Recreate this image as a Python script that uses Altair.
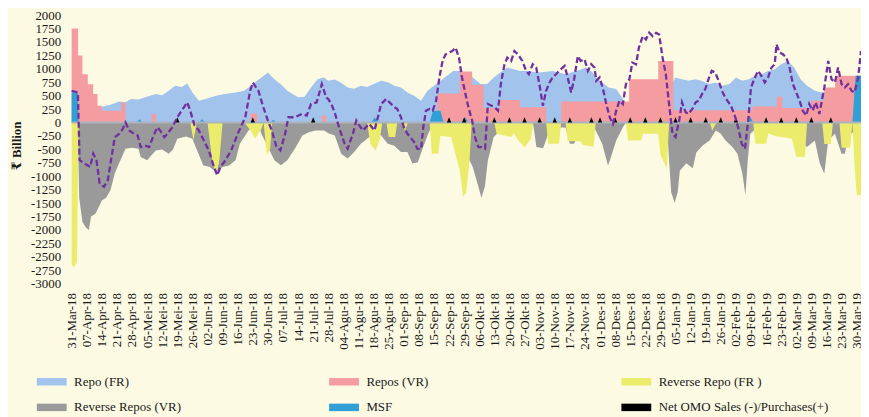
import json
import altair as alt
import pandas as pd

# ---------------- data (day index 0 = 31-Mar-18) ----------------
WEEK_LABELS = ["31-Mar-18","07-Apr-18","14-Apr-18","21-Apr-18","28-Apr-18","05-Mei-18","12-Mei-18",
    "19-Mei-18","26-Mei-18","02-Jun-18","09-Jun-18","16-Jun-18","23-Jun-18","30-Jun-18","07-Jul-18",
    "14-Jul-18","21-Jul-18","28-Jul-18","04-Agu-18","11-Agu-18","18-Agu-18","25-Agu-18","01-Sep-18",
    "08-Sep-18","15-Sep-18","22-Sep-18","29-Sep-18","06-Okt-18","13-Okt-18","20-Okt-18","27-Okt-18",
    "03-Nov-18","10-Nov-18","17-Nov-18","24-Nov-18","01-Des-18","08-Des-18","15-Des-18","22-Des-18",
    "29-Des-18","05-Jan-19","12-Jan-19","19-Jan-19","26-Jan-19","02-Feb-19","09-Feb-19","16-Feb-19",
    "23-Feb-19","02-Mar-19","09-Mar-19","16-Mar-19","23-Mar-19","30-Mar-19"]

SERIES = ["Repo (FR)", "Repos (VR)", "Reverse Repo (FR )", "Reverse Repos (VR)", "MSF",
          "Net OMO Sales (-)/Purchases(+)"]
COLORS = ["#a2c3eb", "#f59ca0", "#ecec6c", "#9a9a9a", "#2f9fd6", "#000000"]

REPO_FR_DAYS = [0,12,14,18,22,25,27.5,31,34,39,42,45,48,51,53.6,56,59,62,67,71,76,80,84,88,91,94,97,100,
    105,108,111,114,117,119,122,125,128,131,134,137,140,143.5,146.6,149.6,152.7,155.7,158.8,162,165,168,
    171,174,177,180,183,186,189.6,192.6,195.7,198.8,202,205,208,211,217,223,229,234,238.5,241.6,243,246,
    249,252.5,255.6,257,259,270,278,280,283,286,289,292,295.6,298.7,301.7,305,308,311,314,317,320,323,
    326,329,332,335,338,341,344.6,347.7,350.8,355,366]
REPO_FR_VALS = [0,250,296,330,390,376,438,430,470,530,510,592,685,660,728,560,407,440,500,530,560,592,715,
    840,932,808,715,592,470,480,654,808,840,777,800,740,654,630,685,660,716,777,750,685,654,561,500,407,
    592,685,777,870,962,962,932,839,716,716,839,931,1024,993,962,962,932,962,900,962,1024,932,839,746,
    654,623,438,222,300,500,700,839,808,777,808,777,716,746,685,716,839,777,808,870,900,962,993,1086,
    1148,1024,808,685,592,560,600,500,500]

REPO_VR_DAYS = [0,3,5,7.5,10,12,14,23,25,37,39,83,86,116,118,169.6,180,185.7,191,198.6,207.8,220,227,
    258.5,272,279,315.7,327,329.5,343,349,354,366]
REPO_VR_VALS = [1750,1250,900,715,530,315,220,375,0,160,0,170,0,130,0,540,950,700,270,420,284,0,390,
    808,1148,230,300,480,270,407,654,870,870]

REV_FR_DAYS = [0,1,2.5,3.2,55,56.5,58,63,65,67,68.5,70,80,83,85,88,89,90.5,92,93,137,138.5,141,143,144,
    146,147,150,151,153,154.5,156,166,167,170,171,176,178,180,181.5,183,184.5,185.5,196,197,204,205,207,
    210,213,214,220,221,226,227,229,230,236,237,242,243,257,258,264,265,272,273,276,277,296,297,299,316,
    317,322,323,326,334,336,340,341,348,349,352,353,356,357,361,362,363,364,366]
REV_FR_VALS = [-2650,-2700,-2600,0,0,-330,0,0,-650,-1000,-700,0,0,-150,-300,-120,0,-600,-500,0,0,-400,
    -520,-300,0,0,-270,-270,0,0,-150,0,0,-580,-580,-250,-270,-600,-900,-1380,-1300,-700,0,0,-210,-270,
    -200,-330,-460,-300,0,0,-395,-395,0,0,-350,-350,-420,-450,0,0,-333,-333,-210,-210,-600,-860,0,0,
    -150,0,0,-395,-395,-200,-250,-300,-642,-642,0,0,-400,-400,0,0,-470,-470,0,-800,-1350,-1350]

REV_VR_DAYS = [0,2.8,3.5,5,6.5,8,9,11,13,14,16,18,20,22,25,28,31,32,35,39,42,45,47,49,53,56,58,61,64,67,
    70,73,76,78,82,84,87,88,91,94,97,100,104,107,110,113,117,119,122,125,128,131,134,137,140,143.5,
    146.6,149.6,152.7,155.7,158,160.5,163,165,167,168,180,181,183,186,188.6,190,191.6,193,195.7,198.8,
    202,205,214,215.5,218.6,221,223,227,229,231,233,236,238.5,241.6,243,246,248.7,250,252.5,255.6,257,
    276,277,278,279.6,281,282,285,288,289.6,292.7,295.8,298.7,301,303.2,306.4,308.7,311,312.4,313.5,
    314.7,318,322,327.6,335,338,341,344.6,346.9,349,350.8,353.9,357,358.5,360,363,366]
REV_VR_VALS = [0,0,-1400,-1850,-1950,-2000,-1750,-1700,-1540,-1450,-1400,-1260,-950,-760,-487,-470,-490,
    -640,-700,-520,-500,-580,-500,-300,-260,-300,-500,-796,-826,-920,-830,-800,-700,-395,-148,-86,-86,
    -210,-456,-700,-796,-700,-456,-240,-180,-148,-148,-200,-240,-580,-672,-549,-400,-302,-210,-240,-395,
    -430,-549,-549,-765,-740,-456,-240,-55,0,0,-150,-580,-827,-1197,-1400,-1197,-703,-271,-148,-86,-30,
    -30,-456,-480,-210,-30,-90,-90,-395,-395,-148,-86,-60,-148,-395,-800,-650,-333,-86,0,0,-700,-1300,
    -1500,-1300,-900,-760,-850,-560,-425,-333,-148,-210,-333,-456,-580,-950,-1350,-700,-210,-86,-100,
    -148,-240,-364,-456,-333,-765,-950,-333,-210,-580,-580,-271,-148,-148]

MSF_DAYS = [0,2.8,3.3,30,31.5,33,59,60.5,62,92,93.5,95,139,140.5,142,166,167.5,171,172.5,181,182.5,184,
    313,314.5,316,362,363.5,366]
MSF_VALS = [560,560,0,0,60,0,0,60,0,0,50,0,0,100,0,0,222,222,0,0,100,0,0,120,0,0,870,870]

OMO_DAYS = [49,84,112,175,182,196,203,210,217,224,231,241,245,252,259,266,273,280,287,294,301,308,322,
    329,336,343,352]
OMO_VALS = [100] * len(OMO_DAYS)

NET_DAYS = [0,2.9,3.7,6,8.6,10,11.5,13,15,16.8,18,20,22,23.7,25,26.7,29,30.6,32,34,36,38,39.8,41,43,44.4,
    46.7,49,51,53.6,55,57,59,61.3,63.6,66,67.5,69,71.3,74,77,80.5,82.8,84,86.6,88.9,91,92.8,95,96.8,99,
    100.5,103.6,106.7,109,111,113.6,116,118,119,120.4,122,123,125,126.6,128,130.4,132,133.4,135,136.5,
    138,140.4,142,143.5,145.8,147.4,149.7,151,152.7,154,155.7,157,158.8,160.3,162,163,164.3,166,167.4,
    169,170.5,172,173.4,175,176.5,178,179.6,181,182.6,184,185.7,187,188.6,190,191.7,193,194.7,196.2,
    197.7,199,200.7,202,203.8,205.3,206.9,209,210.7,212,213.8,215.4,217,218.5,220,221.6,223,224.6,226,
    228.6,230,231.6,233,234.7,236,237.8,239.4,240.9,242.4,243.3,244.8,246.4,247.9,249.5,251,252.5,254,
    255.6,257,258.6,260,261.7,263,264.8,266.3,267.8,269.4,271,272.4,274,275.5,277,278.6,280,281.7,283,
    284.7,286,287.8,289.3,290.8,292.3,293.8,295.3,296.8,298.4,300,301.5,303,304.6,306,307.7,309,310.7,
    312.2,313.7,315,316.8,318.3,319.8,321.4,322.9,324.5,326,326.8,328.3,329.8,331.4,332.9,334.4,336,
    337.5,339,340.6,342,343.6,345,346.7,349,350.8,352.3,353.9,355.4,357,358.5,360,361.6,363,364.7,366]
NET_VALS = [590,560,-700,-765,-827,-580,-700,-1135,-1197,-1070,-765,-271,-210,-120,0,-148,-210,-240,-456,
    -430,-456,-240,-86,-148,-271,-210,-86,99,222,376,222,-55,-148,-333,-518,-827,-981,-827,-703,-518,
    -210,99,592,746,592,284,37,-148,-456,-518,-210,99,99,160,130,345,376,716,469,438,345,190,37,-210,
    -395,-487,-210,37,-55,-148,-86,-25,-148,99,345,438,376,284,253,99,-86,-210,-271,-364,-487,-500,
    -100,222,253,222,407,839,1148,1271,1302,1333,1394,1209,839,531,284,37,-271,-456,-456,-487,345,314,
    284,222,716,1086,1209,1148,1333,1271,1148,962,900,1086,1024,685,314,592,746,839,900,962,1055,839,
    561,808,1240,1148,1178,962,1086,1024,777,839,623,345,99,-25,222,407,345,716,808,1117,1086,1394,
    1610,1548,1672,1610,1672,1641,1209,900,345,-210,-271,37,376,191,160,253,376,407,531,623,808,962,
    931,777,592,469,376,284,99,-86,-395,-487,37,654,839,962,870,746,839,1024,1086,1456,1302,1271,1209,
    1024,716,561,407,222,130,345,222,376,160,654,1148,808,746,1024,716,654,716,592,561,839,1333]

# ---------------- frames ----------------
def frame(days, vals, name):
    return pd.DataFrame({"day": days, "value": vals, "series": name})

omo_lookup = dict(zip(OMO_DAYS, OMO_VALS))
omo_days_all = list(range(0, 367))
df_blue = frame(REPO_FR_DAYS, REPO_FR_VALS, SERIES[0])
df_pink = frame(REPO_VR_DAYS, REPO_VR_VALS, SERIES[1])
df_yel = frame(REV_FR_DAYS, REV_FR_VALS, SERIES[2])
df_gray = frame(REV_VR_DAYS, REV_VR_VALS, SERIES[3])
df_msf = frame(MSF_DAYS, MSF_VALS, SERIES[4])
df_omo = frame(omo_days_all, [omo_lookup.get(d, 0) for d in omo_days_all], SERIES[5])
df_net = pd.DataFrame({"day": NET_DAYS, "value": NET_VALS})

FONT = "'Liberation Serif', 'Times New Roman', 'DejaVu Serif', serif"
label_expr = json.dumps(WEEK_LABELS) + "[round(datum.value / 7)]"

x_enc = alt.X("day:Q", scale=alt.Scale(domain=[0, 366], nice=False, zero=False),
              axis=alt.Axis(values=list(range(0, 365, 7)), labelExpr=label_expr, labelAngle=270,
                            labelOverlap=False, labelFlush=False, labelBound=False, ticks=False,
                            domain=False, grid=False, labelPadding=9, title=None,
                            labelFont=FONT, labelFontSize=13, labelColor="#1a1a1a"))
y_enc = alt.Y("value:Q", stack=None, scale=alt.Scale(domain=[-3000, 2000], nice=False),
              axis=alt.Axis(values=list(range(-3000, 2001, 250)), labelExpr="'' + datum.value",
                            ticks=False, domain=False, grid=False, labelPadding=11,
                            title="₹ Billion", titleFont=FONT, titleFontSize=13, titleFontWeight="bold",
                            titleColor="#1a1a1a", titleX=-48, titleY=131,
                            labelFont=FONT, labelFontSize=13, labelColor="#1a1a1a", labelOverlap=False))

legend = alt.Legend(title=None, orient="none", legendX=-27.5, legendY=361, columns=3,
                    direction="horizontal",
                    symbolType="M-2,-0.5L2,-0.5L2,0.5L-2,0.5Z", symbolSize=225,
                    symbolStrokeWidth=0, symbolOpacity=1, labelFont=FONT, labelFontSize=13,
                    labelColor="#1a1a1a", labelOffset=15, columnPadding=85, rowPadding=11,
                    gridAlign="all", labelLimit=400)
color_enc = alt.Color("series:N", scale=alt.Scale(domain=SERIES, range=COLORS), legend=legend)

def area(df, interp="linear"):
    return alt.Chart(df).mark_area(interpolate=interp, opacity=1).encode(x=x_enc, y=y_enc, color=color_enc)

blue = area(df_blue)
pink = area(df_pink, "step-after")
gray = area(df_gray)
yel = area(df_yel)
msf = area(df_msf)
zero = alt.Chart(pd.DataFrame({"value": [0]})).mark_rule(color="#aab4be", strokeWidth=2).encode(y=y_enc)
omo = area(df_omo)
net = alt.Chart(df_net).mark_line(color="#7030a0", strokeWidth=2.3, strokeDash=[6, 3]).encode(x=x_enc, y=y_enc)

chart = alt.layer(blue, pink, gray, yel, msf, zero, omo, net).properties(
    width=794, height=270,
    autosize=alt.AutoSizeParams(type="none"),
    padding={"left": 64, "top": 6, "right": 0, "bottom": 140},
    background="#fcfae3",
).configure_view(stroke=None)

chart.save("out.html", embed_options={"renderer": "svg", "actions": False})
